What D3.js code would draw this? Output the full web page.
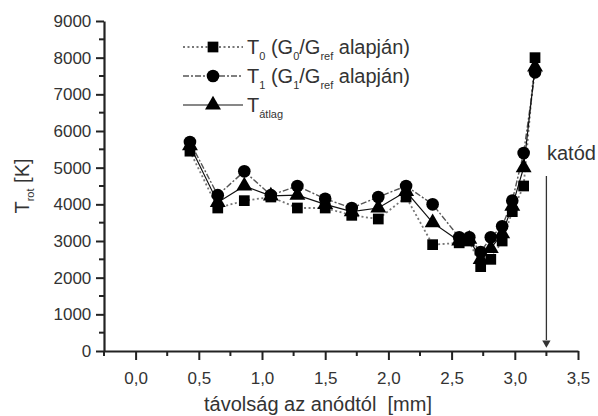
<!DOCTYPE html>
<html><head><meta charset="utf-8">
<script src="https://cdn.jsdelivr.net/npm/d3@7/dist/d3.min.js"></script>
<style>body{margin:0;background:#fff}svg{display:block}text{font-family:"Liberation Sans",Arial,sans-serif;fill:#333}</style>
</head><body><svg id="c" width="598" height="416"></svg>
<script>
const xPos = [0.43, 0.65, 0.86, 1.07, 1.28, 1.50, 1.71, 1.92, 2.14, 2.35, 2.56, 2.64, 2.73, 2.81, 2.90, 2.98, 3.07, 3.16];
const t0 = [5450, 3900, 4100, 4200, 3900, 3900, 3700, 3600, 4200, 2900, 2950, 3000, 2300, 2500, 3000, 3800, 4500, 8000];
const t1 = [5700, 4250, 4900, 4250, 4500, 4150, 3900, 4200, 4500, 4000, 3100, 3100, 2700, 3100, 3400, 4100, 5400, 7600];
const tAvg = [5600, 4050, 4500, 4230, 4250, 4000, 3800, 3900, 4350, 3500, 3000, 3050, 2500, 2800, 3200, 3950, 5000, 7750];
const xTicks = [0, 0.5, 1, 1.5, 2, 2.5, 3, 3.5];
const yTicks = [0, 1000, 2000, 3000, 4000, 5000, 6000, 7000, 8000, 9000];
const cathodeX = 3.25;

const svg = d3.select("#c");
const x = d3.scaleLinear().domain([-0.25, 3.5]).range([104, 578]);
const y = d3.scaleLinear().domain([0, 9000]).range([351, 21]);
const fmt = d => d3.format(".1f")(d).replace(".", ",");

// axes
const xMinor = d3.range(-0.25, 3.5001, 0.25).filter(v => Math.abs((v*2) - Math.round(v*2)) > 1e-6);
const gx = svg.append("g").attr("transform", `translate(0,${y(0)})`);
gx.call(d3.axisBottom(x).tickValues(xTicks).tickFormat(fmt).tickSize(9).tickSizeOuter(0));
gx.append("g").selectAll("line").data(xMinor).join("line")
  .attr("x1", d => x(d)).attr("x2", d => x(d)).attr("y1", 0).attr("y2", 5).attr("stroke", "#222").attr("stroke-width", 2);
const gy = svg.append("g").attr("transform", `translate(${x(-0.25)},0)`);
gy.call(d3.axisLeft(y).tickValues(yTicks).tickFormat(d3.format("d")).tickSize(8).tickSizeOuter(0));
gy.append("g").selectAll("line").data(d3.range(500, 9000, 1000)).join("line")
  .attr("x1", 0).attr("x2", -5).attr("y1", d => y(d)).attr("y2", d => y(d)).attr("stroke", "#222").attr("stroke-width", 2);
[gx, gy].forEach(g => {
  g.select(".domain").attr("stroke", "#222").attr("stroke-width", 2.2);
  g.selectAll(".tick line").attr("stroke", "#222").attr("stroke-width", 2);
  g.selectAll(".tick text").attr("font-size", 17).attr("fill", "#333").style("font-family", "Liberation Sans, Arial, sans-serif");
});
gx.selectAll(".tick text").attr("dy", "1.25em");
gy.selectAll(".tick text").attr("dx", "-0.1em");

// titles
svg.append("text").attr("x", 318).attr("y", 411).attr("text-anchor", "middle").attr("font-size", 20)
  .style("white-space", "pre").text("távolság az anódtól  [mm]");
const yt = svg.append("text").attr("transform", "translate(29,186) rotate(-90)").attr("text-anchor", "middle").attr("font-size", 20);
yt.append("tspan").text("T");
yt.append("tspan").attr("font-size", 11).attr("dy", 5).text("rot");
yt.append("tspan").attr("dy", -5).text(" [K]");

// series
const series = [
  {vals: t0, dash: "2,2.5", color: "#777", width: 1.8, sym: d3.symbolSquare, size: 115},
  {vals: t1, dash: "6,2,2,2", color: "#555", width: 1.4, sym: d3.symbolCircle, size: 125},
  {vals: tAvg, dash: null, color: "#111", width: 1.2, sym: d3.symbolTriangle, size: 110}
];
const line = d3.line().x(d => x(d[0])).y(d => y(d[1]));
series.forEach(s => {
  const pts = xPos.map((v, i) => [v, s.vals[i]]);
  svg.append("path").attr("d", line(pts)).attr("fill", "none").attr("stroke", s.color)
    .attr("stroke-width", s.width).attr("stroke-dasharray", s.dash);
});
series.forEach(s => {
  svg.append("g").selectAll("path").data(xPos.map((v, i) => [v, s.vals[i]])).join("path")
    .attr("d", d3.symbol(s.sym, s.size)).attr("transform", d => `translate(${x(d[0])},${y(d[1])})`).attr("fill", "#000");
});

// legend
const legRows = [
  {s: series[0], main: "T", sub: "0", rest: [" (G", "0", "/G", "ref", " alapján)"]},
  {s: series[1], main: "T", sub: "1", rest: [" (G", "1", "/G", "ref", " alapján)"]},
  {s: series[2], main: "T", sub: "átlag", rest: []}
];
legRows.forEach((r, i) => {
  const ly = 47 + i * 29;
  svg.append("line").attr("x1", 183).attr("x2", 243).attr("y1", ly).attr("y2", ly)
    .attr("stroke", r.s.color).attr("stroke-width", r.s.width).attr("stroke-dasharray", r.s.dash);
  svg.append("path").attr("d", d3.symbol(r.s.sym, r.s.size)).attr("transform", `translate(213,${ly})`).attr("fill", "#000");
  const t = svg.append("text").attr("x", 247).attr("y", ly + 7).attr("font-size", 20);
  t.append("tspan").text(r.main);
  t.append("tspan").attr("font-size", 11).attr("dy", 6).text(r.sub);
  r.rest.forEach((p, k) => {
    if (k % 2 === 0) { t.append("tspan").attr("dy", -6).text(p); }
    else { t.append("tspan").attr("font-size", 11).attr("dy", 6).text(p); }
  });
});

// cathode marker
svg.append("text").attr("x", 547).attr("y", 160).attr("font-size", 20).text("katód");
svg.append("line").attr("x1", x(cathodeX)).attr("x2", x(cathodeX)).attr("y1", 176).attr("y2", 340)
  .attr("stroke", "#333").attr("stroke-width", 1.3);
svg.append("path").attr("d", d3.symbol(d3.symbolTriangle, 30)).attr("fill", "#333")
  .attr("transform", `translate(${x(cathodeX)},${343}) rotate(180)`);
</script></body></html>
